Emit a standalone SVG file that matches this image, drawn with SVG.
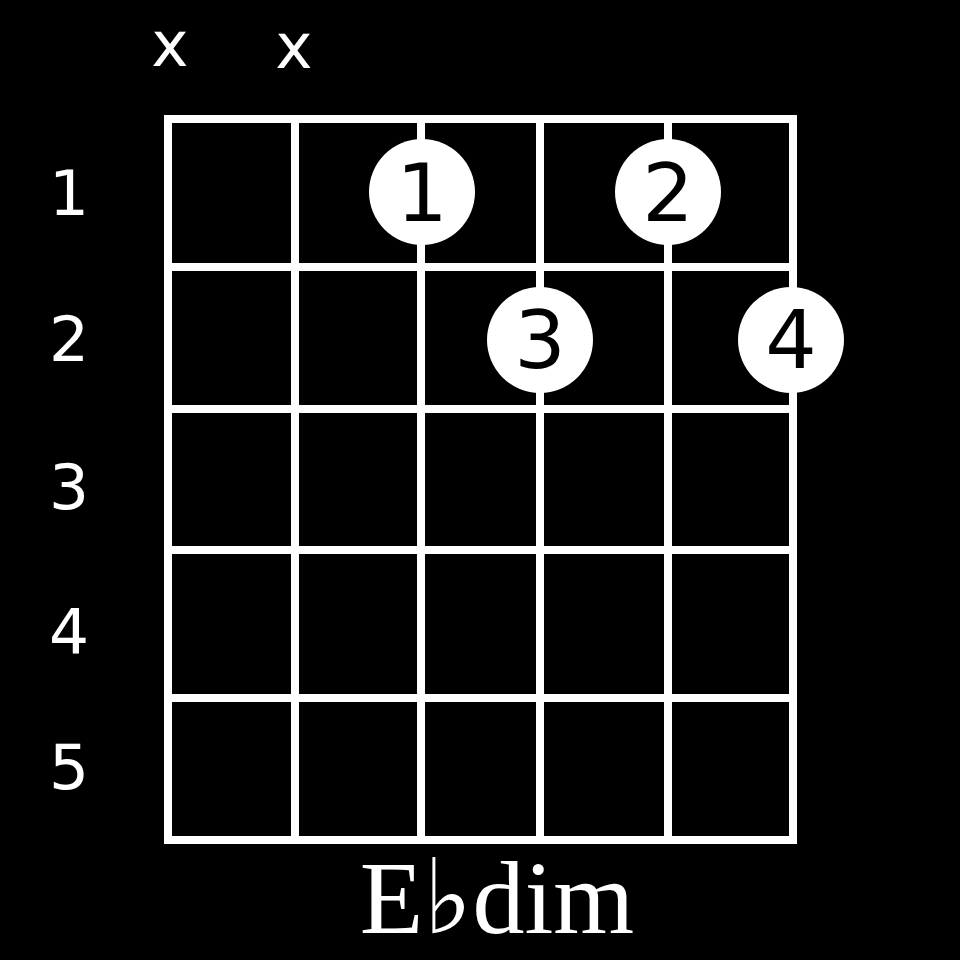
<svg xmlns="http://www.w3.org/2000/svg" width="960" height="960" viewBox="0 0 960 960">
<style>
.grid line{stroke:#fff;stroke-width:8;stroke-linecap:square}
.lbl{fill:#fff;font-family:"DejaVu Sans",sans-serif;font-size:63px;text-anchor:middle}
.dot circle{fill:#fff}
.dot text{fill:#000;font-family:"DejaVu Sans",sans-serif;font-size:81px;text-anchor:middle}
.title{fill:#fff;font-family:"Liberation Serif","DejaVu Serif",serif;font-size:104px;text-anchor:middle}
</style>
<rect width="960" height="960" fill="#000"/>
<g id="grid" class="grid">
<line x1="168" y1="119" x2="793" y2="119"/>
<line x1="168" y1="267" x2="793" y2="267"/>
<line x1="168" y1="409" x2="793" y2="409"/>
<line x1="168" y1="550" x2="793" y2="550"/>
<line x1="168" y1="698" x2="793" y2="698"/>
<line x1="168" y1="840" x2="793" y2="840"/>
<line x1="168" y1="119" x2="168" y2="840"/>
<line x1="295" y1="119" x2="295" y2="840"/>
<line x1="421" y1="119" x2="421" y2="840"/>
<line x1="540" y1="119" x2="540" y2="840"/>
<line x1="668" y1="119" x2="668" y2="840"/>
<line x1="793" y1="119" x2="793" y2="840"/>
</g>
<g id="mutes">
<text class="lbl" x="170" y="66">x</text>
<text class="lbl" x="294" y="68">x</text>
</g>
<g id="frets">
<text class="lbl" x="69" y="215">1</text>
<text class="lbl" x="69" y="361">2</text>
<text class="lbl" x="69" y="509">3</text>
<text class="lbl" x="69" y="654">4</text>
<text class="lbl" x="69" y="789">5</text>
</g>
<g id="f1" class="dot"><circle cx="422" cy="192" r="53"/><text x="422" y="221">1</text></g>
<g id="f2" class="dot"><circle cx="668" cy="192" r="53"/><text x="668" y="221">2</text></g>
<g id="f3" class="dot"><circle cx="540" cy="340" r="53"/><text x="540" y="368">3</text></g>
<g id="f4" class="dot"><circle cx="791" cy="340" r="53"/><text x="791" y="368">4</text></g>
<text id="title" class="title" x="497" y="933">E♭dim</text>
</svg>
